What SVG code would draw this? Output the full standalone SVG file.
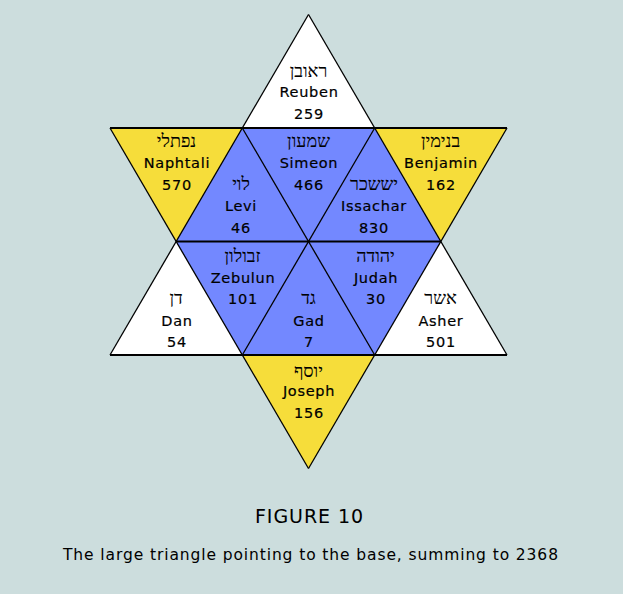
<svg xmlns="http://www.w3.org/2000/svg" width="623" height="594" viewBox="0 0 623 594">
<style>
.bg{fill:#CCDDDD}
.y{fill:#F6DD3A}
.b{fill:#7388FF}
.w{fill:#FFFFFF}
.t{font-family:"DejaVu Sans","Verdana",sans-serif;font-size:14.5px;letter-spacing:0.7px;text-anchor:middle;fill:#000;stroke:#000;stroke-width:0.2px}
.h{font-family:"Liberation Serif","DejaVu Sans",serif;font-size:18px;text-anchor:middle;fill:#000;stroke:#000;stroke-width:0.1px}
.hl{stroke:#000;stroke-width:2;fill:none}
.dl{stroke:#000;stroke-width:1.3;fill:none}
.cap{font-family:"DejaVu Sans","Verdana",sans-serif;fill:#000;text-anchor:middle}
</style>
<rect class="bg" x="0" y="0" width="623" height="594"/>
<g id="reuben"><polygon class="w" points="308.5,14.5 242.3,128 374.7,128"/>
<text class="h" x="308.5" y="77">ראובן</text><text class="t" x="309" y="97">Reuben</text><text class="t" x="309" y="118.5">259</text></g>
<g id="naphtali"><polygon class="y" points="110,128 242.3,128 176.2,241.5"/>
<text class="h" x="176.5" y="147">נפתלי</text><text class="t" x="177" y="168">Naphtali</text><text class="t" x="177" y="190">570</text></g>
<g id="levi"><polygon class="b" points="242.3,128 308.5,241.5 176.2,241.5"/>
<text class="h" x="241" y="190">לוי</text><text class="t" x="241" y="211">Levi</text><text class="t" x="241" y="233">46</text></g>
<g id="simeon"><polygon class="b" points="242.3,128 374.7,128 308.5,241.5"/>
<text class="h" x="308.5" y="147">שמעון</text><text class="t" x="309" y="168">Simeon</text><text class="t" x="309" y="190">466</text></g>
<g id="issachar"><polygon class="b" points="374.7,128 440.8,241.5 308.5,241.5"/>
<text class="h" x="374" y="190">יששכר</text><text class="t" x="374" y="211">Issachar</text><text class="t" x="374" y="233">830</text></g>
<g id="benjamin"><polygon class="y" points="374.7,128 507,128 440.8,241.5"/>
<text class="h" x="440.5" y="147">בנימין</text><text class="t" x="441" y="168">Benjamin</text><text class="t" x="441" y="190">162</text></g>
<g id="dan"><polygon class="w" points="176.2,241.5 242.3,355 110,355"/>
<text class="h" x="176" y="304">דן</text><text class="t" x="177" y="325.5">Dan</text><text class="t" x="177" y="347">54</text></g>
<g id="zebulun"><polygon class="b" points="176.2,241.5 308.5,241.5 242.3,355"/>
<text class="h" x="242.5" y="262">זבולון</text><text class="t" x="243" y="282.5">Zebulun</text><text class="t" x="243" y="304">101</text></g>
<g id="gad"><polygon class="b" points="308.5,241.5 374.7,355 242.3,355"/>
<text class="h" x="308.5" y="304">גד</text><text class="t" x="309" y="325.5">Gad</text><text class="t" x="309" y="347">7</text></g>
<g id="judah"><polygon class="b" points="308.5,241.5 440.8,241.5 374.7,355"/>
<text class="h" x="375.5" y="262">יהודה</text><text class="t" x="376" y="282.5">Judah</text><text class="t" x="376" y="304">30</text></g>
<g id="asher"><polygon class="w" points="440.8,241.5 507,355 374.7,355"/>
<text class="h" x="440.5" y="304">אשר</text><text class="t" x="441" y="325.5">Asher</text><text class="t" x="441" y="347">501</text></g>
<g id="joseph"><polygon class="y" points="242.3,355 374.7,355 308.5,468.5"/>
<text class="h" x="308.5" y="377">יוסף</text><text class="t" x="309" y="396">Joseph</text><text class="t" x="309" y="418">156</text></g>
<g id="connectors">
<line class="hl" x1="110" y1="128" x2="507" y2="128"/>
<line class="hl" x1="176.2" y1="241.5" x2="440.8" y2="241.5"/>
<line class="hl" x1="110" y1="355" x2="507" y2="355"/>
<line class="dl" x1="308.5" y1="14.5" x2="110" y2="355"/>
<line class="dl" x1="308.5" y1="14.5" x2="507" y2="355"/>
<line class="dl" x1="110" y1="128" x2="308.5" y2="468.5"/>
<line class="dl" x1="507" y1="128" x2="308.5" y2="468.5"/>
<line class="dl" x1="242.3" y1="128" x2="374.7" y2="355"/>
<line class="dl" x1="374.7" y1="128" x2="242.3" y2="355"/>
</g>
<g id="caption">
<text class="cap" x="309" y="522.5" font-size="19" textLength="108" lengthAdjust="spacing">FIGURE 10</text>
<text class="cap" x="310.5" y="560" font-size="15.5" textLength="495" lengthAdjust="spacing">The large triangle pointing to the base, summing to 2368</text>
</g>
</svg>
